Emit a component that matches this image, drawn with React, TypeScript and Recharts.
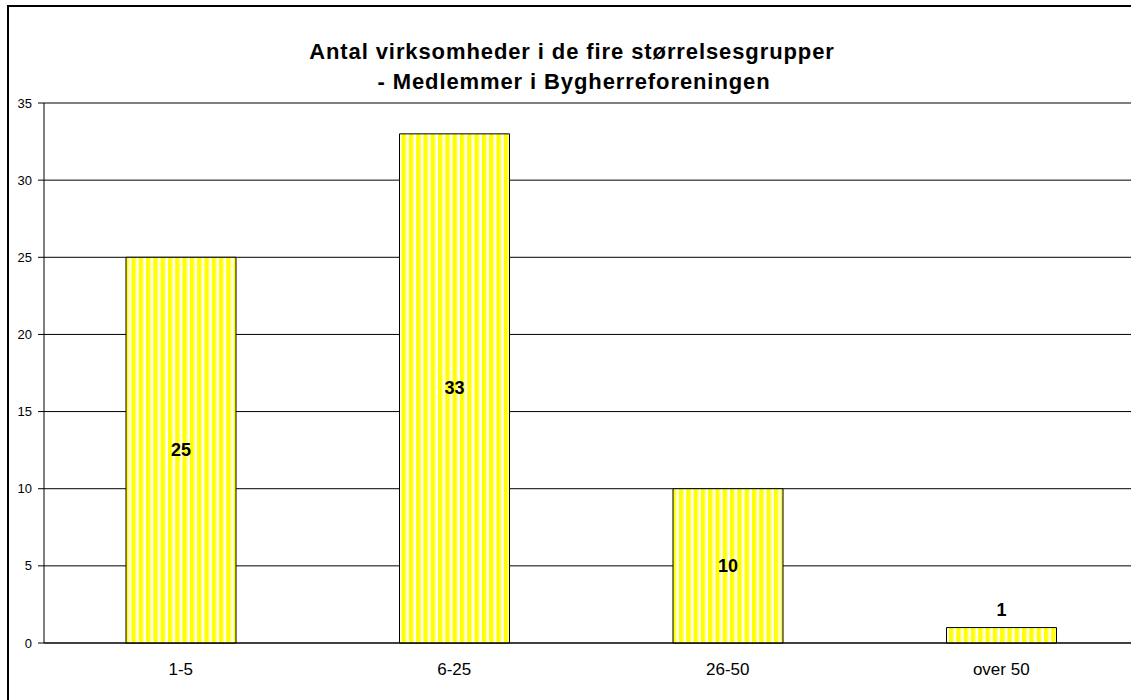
import { BarChart, Bar, XAxis, YAxis, CartesianGrid, LabelList } from 'recharts';

const groups = ['1-5', '6-25', '26-50', 'over 50'];
const counts = [25, 33, 10, 1];
const yTicks = [0, 5, 10, 15, 20, 25, 30, 35];
const titleLines = [
  'Antal virksomheder i de fire størrelsesgrupper',
  '- Medlemmer i Bygherreforeningen',
];

const data = groups.map((g, i) => ({ group: g, count: counts[i] }));

const FONT = '"Liberation Sans", Arial, sans-serif';

function BarValue(props: any) {
  const { x, y, width, height, value } = props;
  const cx = x + width / 2;
  // Excel puts the label above the bar when it is too short to hold it
  const cy = height < 30 ? y - 18 : y + height / 2;
  return (
    <text x={cx} y={cy} textAnchor="middle" dominantBaseline="central"
      fontFamily={FONT} fontWeight="bold" fontSize={18} fill="#000">
      {value}
    </text>
  );
}

export default function App() {
  return (
    <div style={{ position: 'absolute', left: 0, top: 0, width: 1131, height: 700, overflow: 'hidden', background: '#fff' }}>
      {/* outer frame, runs past the right and bottom edge */}
      <div style={{ position: 'absolute', left: 7, top: 5, width: 1200, height: 720, border: '2px solid #000', boxSizing: 'border-box' }} />
      <div style={{ position: 'absolute', left: 0, top: 0 }}>
        <BarChart width={1138} height={700} data={data}
          margin={{ top: 103, right: 0, bottom: 27, left: 0 }}>
          <defs>
            <pattern id="stripes" patternUnits="userSpaceOnUse" width={7.3} height={10}>
              <rect x={0} y={0} width={7.3} height={10} fill="#fff" />
              <rect x={0} y={0} width={4.3} height={10} fill="#ffff00" />
              <rect x={4.3} y={0} width={1} height={10} fill="#ffff99" />
            </pattern>
          </defs>
          <text x={572} y={51} textAnchor="middle" dominantBaseline="central"
            fontFamily={FONT} fontWeight="bold" fontSize={22} letterSpacing={0.9} fill="#000">
            {titleLines[0]}
          </text>
          <text x={574} y={81} textAnchor="middle" dominantBaseline="central"
            fontFamily={FONT} fontWeight="bold" fontSize={22} letterSpacing={0.9} fill="#000">
            {titleLines[1]}
          </text>
          <CartesianGrid vertical={false} stroke="#000" strokeWidth={1} />
          <XAxis dataKey="group" height={30} interval={0}
            axisLine={{ stroke: '#000' }} tickLine={false}
            tick={{ fontFamily: FONT, fontSize: 17, fill: '#000' }} tickMargin={14} />
          <YAxis width={44} domain={[0, 35]} ticks={yTicks} interval={0}
            axisLine={{ stroke: '#000' }} tickLine={{ stroke: '#000' }} tickSize={6}
            tick={{ fontFamily: FONT, fontSize: 13, fill: '#000' }} tickMargin={6} />
          <Bar dataKey="count" barSize={110} fill="url(#stripes)" stroke="#000" strokeWidth={1}
            isAnimationActive={false}>
            <LabelList dataKey="count" content={<BarValue />} />
          </Bar>
        </BarChart>
      </div>
    </div>
  );
}
